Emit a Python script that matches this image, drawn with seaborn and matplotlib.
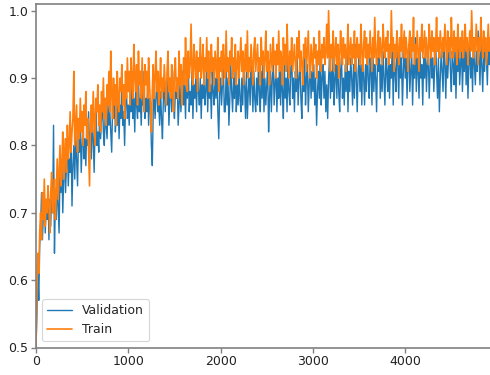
import numpy as np
import pandas as pd
import matplotlib
matplotlib.use("Agg")
import matplotlib.pyplot as plt
import seaborn as sns

# step positions (every 10 steps)
steps = list(range(0, 4950, 10))

validation = [
    0.50, 0.55, 0.61, 0.57, 0.65, 0.68, 0.73, 0.66, 0.70, 0.73, 0.67, 0.71, 0.69, 0.74, 0.66, 0.72, 0.68, 0.75, 0.70, 0.83,
    0.64, 0.72, 0.69, 0.75, 0.71, 0.67, 0.76, 0.73, 0.78, 0.70, 0.75, 0.79, 0.73, 0.77, 0.80, 0.74, 0.78, 0.76, 0.81, 0.71,
    0.77, 0.80, 0.75, 0.82, 0.78, 0.74, 0.81, 0.79, 0.83, 0.76, 0.80, 0.84, 0.78, 0.81, 0.77, 0.83, 0.80, 0.85, 0.79, 0.82,
    0.78, 0.84, 0.81, 0.76, 0.83, 0.86, 0.80, 0.82, 0.79, 0.85, 0.81, 0.84, 0.87, 0.82, 0.80, 0.85, 0.83, 0.81, 0.86, 0.83,
    0.85, 0.82, 0.79, 0.86, 0.84, 0.88, 0.82, 0.85, 0.83, 0.87, 0.81, 0.86, 0.84, 0.89, 0.83, 0.85, 0.80, 0.86, 0.88, 0.84,
    0.86, 0.83, 0.88, 0.85, 0.91, 0.84, 0.87, 0.82, 0.89, 0.86, 0.84, 0.90, 0.85, 0.87, 0.83, 0.88, 0.86, 0.91, 0.84, 0.87,
    0.85, 0.89, 0.83, 0.87, 0.86, 0.80, 0.77, 0.85, 0.88, 0.84, 0.87, 0.90, 0.85, 0.86, 0.83, 0.88, 0.84, 0.81, 0.87, 0.89,
    0.85, 0.88, 0.86, 0.90, 0.83, 0.87, 0.89, 0.85, 0.91, 0.86, 0.84, 0.88, 0.87, 0.90, 0.83, 0.86, 0.89, 0.85, 0.88, 0.91,
    0.86, 0.89, 0.84, 0.90, 0.87, 0.92, 0.85, 0.88, 0.86, 0.91, 0.84, 0.89, 0.87, 0.90, 0.85, 0.92, 0.88, 0.86, 0.90, 0.84,
    0.89, 0.87, 0.91, 0.86, 0.88, 0.93, 0.85, 0.90, 0.87, 0.89, 0.84, 0.91, 0.88, 0.86, 0.90, 0.87, 0.92, 0.85, 0.81, 0.88,
    0.90, 0.86, 0.89, 0.92, 0.85, 0.85, 0.91, 0.86, 0.90, 0.83, 0.87, 0.92, 0.88, 0.85, 0.90, 0.87, 0.93, 0.85, 0.89, 0.86,
    0.91, 0.87, 0.85, 0.90, 0.86, 0.92, 0.89, 0.84, 0.91, 0.84, 0.88, 0.90, 0.86, 0.93, 0.89, 0.85, 0.91, 0.87, 0.85, 0.90,
    0.86, 0.92, 0.88, 0.85, 0.91, 0.87, 0.93, 0.85, 0.90, 0.86, 0.89, 0.92, 0.82, 0.87, 0.91, 0.85, 0.90, 0.93, 0.86, 0.89,
    0.92, 0.85, 0.90, 0.87, 0.94, 0.86, 0.91, 0.88, 0.84, 0.92, 0.87, 0.90, 0.85, 0.93, 0.88, 0.86, 0.91, 0.94, 0.87, 0.90,
    0.85, 0.91, 0.88, 0.93, 0.86, 0.90, 0.92, 0.87, 0.84, 0.91, 0.88, 0.94, 0.86, 0.90, 0.92, 0.85, 0.89, 0.93, 0.87, 0.91,
    0.88, 0.92, 0.86, 0.90, 0.83, 0.88, 0.91, 0.87, 0.94, 0.86, 0.90, 0.92, 0.87, 0.91, 0.85, 0.89, 0.84, 0.90, 0.93, 0.87,
    0.91, 0.88, 0.94, 0.86, 0.90, 0.92, 0.87, 0.95, 0.88, 0.85, 0.91, 0.93, 0.87, 0.90, 0.86, 0.92, 0.88, 0.94, 0.85, 0.91,
    0.88, 0.93, 0.90, 0.86, 0.92, 0.87, 0.95, 0.90, 0.85, 0.91, 0.93, 0.88, 0.92, 0.86, 0.94, 0.90, 0.86, 0.92, 0.88, 0.95,
    0.90, 0.87, 0.93, 0.91, 0.86, 0.94, 0.88, 0.92, 0.90, 0.85, 0.93, 0.91, 0.95, 0.87, 0.92, 0.88, 0.94, 0.90, 0.86, 0.93,
    0.91, 0.88, 0.94, 0.87, 0.92, 0.90, 0.95, 0.86, 0.93, 0.91, 0.88, 0.97, 0.92, 0.87, 0.94, 0.90, 0.93, 0.86, 0.91, 0.95,
    0.90, 0.93, 0.87, 0.92, 0.95, 0.88, 0.91, 0.94, 0.86, 0.92, 0.90, 0.96, 0.88, 0.93, 0.91, 0.87, 0.94, 0.90, 0.92, 0.86,
    0.93, 0.90, 0.95, 0.88, 0.92, 0.94, 0.87, 0.91, 0.96, 0.90, 0.93, 0.88, 0.92, 0.95, 0.91, 0.87, 0.93, 0.85, 0.90, 0.94,
    0.91, 0.88, 0.95, 0.92, 0.87, 0.94, 0.90, 0.93, 0.96, 0.91, 0.88, 0.94, 0.92, 0.89, 0.95, 0.87, 0.93, 0.91, 0.96, 0.89,
    0.92, 0.95, 0.88, 0.93, 0.91, 0.96, 0.89, 0.94, 0.87, 0.92, 0.95, 0.90, 0.93, 0.88, 0.96, 0.92, 0.89, 0.94, 0.91, 0.97,
    0.93, 0.89, 0.95, 0.92, 0.88, 0.94, 0.91, 0.96, 0.93, 0.89, 0.95, 0.92, 0.94, 0.90, 0.96,
]

train = [
    0.50, 0.58, 0.64, 0.61, 0.67, 0.70, 0.66, 0.73, 0.69, 0.75, 0.68, 0.72, 0.70, 0.74, 0.71, 0.67, 0.73, 0.76, 0.70, 0.72,
    0.75, 0.69, 0.73, 0.78, 0.72, 0.76, 0.80, 0.74, 0.77, 0.82, 0.75, 0.79, 0.81, 0.76, 0.83, 0.78, 0.80, 0.85, 0.79, 0.82,
    0.84, 0.91, 0.80, 0.83, 0.86, 0.79, 0.84, 0.81, 0.87, 0.82, 0.85, 0.80, 0.86, 0.83, 0.88, 0.81, 0.84, 0.79, 0.74, 0.83,
    0.86, 0.82, 0.88, 0.84, 0.80, 0.87, 0.85, 0.89, 0.83, 0.86, 0.82, 0.88, 0.85, 0.90, 0.84, 0.87, 0.83, 0.89, 0.86, 0.91,
    0.85, 0.94, 0.88, 0.84, 0.90, 0.86, 0.89, 0.83, 0.91, 0.87, 0.85, 0.90, 0.88, 0.92, 0.86, 0.89, 0.84, 0.91, 0.87, 0.93,
    0.88, 0.91, 0.86, 0.93, 0.89, 0.87, 0.95, 0.90, 0.88, 0.92, 0.86, 0.94, 0.89, 0.91, 0.87, 0.93, 0.88, 0.85, 0.92, 0.89,
    0.91, 0.87, 0.93, 0.89, 0.86, 0.82, 0.88, 0.92, 0.87, 0.90, 0.94, 0.88, 0.91, 0.86, 0.89, 0.93, 0.87, 0.90, 0.88, 0.92,
    0.89, 0.86, 0.91, 0.94, 0.88, 0.90, 0.87, 0.92, 0.89, 0.85, 0.91, 0.93, 0.88, 0.90, 0.87, 0.94, 0.89, 0.92, 0.86, 0.90,
    0.93, 0.89, 0.96, 0.91, 0.88, 0.94, 0.90, 0.92, 0.98, 0.91, 0.89, 0.95, 0.92, 0.90, 0.94, 0.88, 0.93, 0.91, 0.96, 0.90,
    0.92, 0.95, 0.89, 0.93, 0.91, 0.96, 0.90, 0.94, 0.88, 0.92, 0.95, 0.91, 0.93, 0.89, 0.94, 0.92, 0.90, 0.96, 0.88, 0.93,
    0.91, 0.94, 0.89, 0.95, 0.92, 0.90, 0.97, 0.91, 0.93, 0.89, 0.94, 0.92, 0.96, 0.90, 0.93, 0.91, 0.95, 0.89, 0.92, 0.94,
    0.90, 0.93, 0.96, 0.91, 0.94, 0.89, 0.92, 0.95, 0.91, 0.97, 0.90, 0.93, 0.91, 0.95, 0.92, 0.89, 0.94, 0.96, 0.91, 0.93,
    0.95, 0.91, 0.93, 0.89, 0.96, 0.92, 0.94, 0.90, 0.93, 0.97, 0.91, 0.94, 0.92, 0.89, 0.95, 0.93, 0.91, 0.96, 0.92, 0.94,
    0.90, 0.95, 0.92, 0.97, 0.91, 0.94, 0.93, 0.89, 0.96, 0.92, 0.95, 0.91, 0.98, 0.93, 0.90, 0.94, 0.92, 0.96, 0.91, 0.93,
    0.95, 0.92, 0.90, 0.96, 0.93, 0.97, 0.91, 0.94, 0.92, 0.89, 0.95, 0.93, 0.96, 0.91, 0.94, 0.97, 0.92, 0.90, 0.95, 0.93,
    0.91, 0.96, 0.93, 0.95, 0.90, 0.94, 0.92, 0.97, 0.93, 0.91, 0.95, 0.93, 0.96, 0.92, 0.94, 0.98, 0.93, 1.00, 0.94, 0.91,
    0.95, 0.93, 0.97, 0.91, 0.94, 0.96, 0.92, 0.95, 0.90, 0.93, 0.97, 0.94, 0.92, 0.96, 0.93, 0.95, 0.91, 0.94, 0.98, 0.92,
    0.94, 0.96, 0.92, 0.95, 0.93, 0.97, 0.91, 0.94, 0.96, 0.93, 0.95, 0.92, 0.98, 0.94, 0.91, 0.95, 0.97, 0.93, 0.96, 0.92,
    0.95, 0.93, 0.97, 0.94, 0.91, 0.96, 0.93, 0.99, 0.94, 0.92, 0.95, 0.97, 0.93, 0.96, 0.94, 0.92, 0.98, 0.95, 0.93, 0.96,
    0.94, 0.97, 0.92, 0.95, 0.93, 1.00, 0.94, 0.96, 0.91, 0.95, 0.93, 0.97, 0.94, 0.92, 0.96, 0.94, 0.98, 0.93, 0.95, 0.97,
    0.93, 0.96, 0.94, 0.91, 0.95, 0.97, 0.93, 0.96, 0.94, 0.99, 0.92, 0.95, 0.93, 0.97, 0.94, 0.91, 0.96, 0.94, 0.98, 0.93,
    0.95, 0.97, 0.93, 0.96, 0.94, 0.92, 0.98, 0.95, 0.93, 0.97, 0.94, 0.96, 0.92, 0.95, 0.99, 0.94, 0.96, 0.93, 0.97, 0.95,
    0.93, 0.96, 0.94, 0.98, 0.95, 0.92, 0.97, 0.94, 0.96, 0.93, 0.99, 0.95, 0.93, 0.97, 0.94, 0.96, 0.92, 0.98, 0.95, 0.93,
    0.96, 0.94, 0.97, 0.93, 0.95, 0.98, 0.94, 0.96, 0.92, 0.95, 0.97, 0.94, 1.00, 0.95, 0.93, 0.96, 0.94, 0.98, 0.95, 0.92,
    0.96, 0.94, 0.99, 0.95, 0.93, 0.97, 0.94, 0.96, 0.92, 0.95, 0.98, 0.94, 0.96, 0.93, 0.97,
]

x_ticks = [0, 1000, 2000, 3000, 4000]
y_ticks = [0.5, 0.6, 0.7, 0.8, 0.9, 1.0]

sns.set_style("white")
plt.rcParams["font.family"] = ["DejaVu Sans"]

df = pd.DataFrame({"step": steps, "Validation": validation, "Train": train})

fig = plt.figure(figsize=(4.9, 3.75), dpi=100)
ax = fig.add_axes([36 / 490, 1 - 347.5 / 375, 461.5 / 490, 343.5 / 375])

sns.lineplot(data=df, x="step", y="Validation", ax=ax, color="#1f77b4",
             linewidth=1.0, label="Validation")
sns.lineplot(data=df, x="step", y="Train", ax=ax, color="#ff7f0e",
             linewidth=1.2, label="Train")

ax.set_xlim(0, 5000)
ax.set_ylim(0.5, 1.01)
ax.set_xticks(x_ticks)
ax.set_yticks(y_ticks)
ax.set_xticklabels([str(t) for t in x_ticks])
ax.set_yticklabels([f"{t:.1f}" for t in y_ticks])
ax.set_xlabel("")
ax.set_ylabel("")

for side in ["left", "bottom", "top"]:
    ax.spines[side].set_visible(True)
    ax.spines[side].set_color("#808080")
    ax.spines[side].set_linewidth(1.2)
ax.spines["right"].set_visible(False)
ax.tick_params(axis="both", which="major", direction="out", length=3.5,
               width=1, color="#808080", labelsize=9, labelcolor="#222222",
               bottom=True, left=True, pad=2)

leg = ax.legend(loc="lower left", fontsize=9, frameon=True, fancybox=True,
                edgecolor="#cccccc", borderaxespad=0.5)
leg.get_frame().set_linewidth(0.8)

fig.savefig("out.png", dpi=100)
